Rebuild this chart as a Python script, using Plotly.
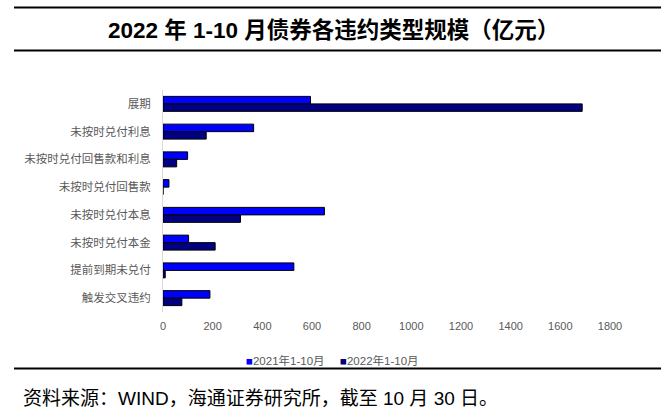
import plotly.graph_objects as go

categories = ["展期", "未按时兑付利息", "未按时兑付回售款和利息", "未按时兑付回售款",
              "未按时兑付本息", "未按时兑付本金", "提前到期未兑付", "触发交叉违约"]
values_2021 = [594, 365, 99, 24, 650, 103, 527, 189]
values_2022 = [1688, 174, 55, 0, 312, 210, 9, 76]
series_names = ["2021年1-10月", "2022年1-10月"]
x_ticks = [0, 200, 400, 600, 800, 1000, 1200, 1400, 1600, 1800]

W, H = 667, 415
ML, MR, MT, MB = 163, 57, 90, 103
PW, PH = W - ML - MR, H - MT - MB


def px(x):
    return (x - ML) / PW


def py(y):
    return (H - MB - y) / PH


fig = go.Figure()
fig.add_trace(go.Bar(y=categories, x=values_2021, orientation="h", name=series_names[0],
                     marker=dict(color="#0000FF", line=dict(color="#000000", width=1))))
fig.add_trace(go.Bar(y=categories, x=values_2022, orientation="h", name=series_names[1],
                     marker=dict(color="#000080", line=dict(color="#000000", width=1))))

fig.update_layout(
    width=W, height=H,
    margin=dict(l=ML, r=MR, t=MT, b=MB, pad=0, autoexpand=False),
    paper_bgcolor="white", plot_bgcolor="white",
    barmode="group", bargap=0.46, bargroupgap=0,
    showlegend=False,
    font=dict(family="Liberation Sans, Arial, Noto Sans CJK SC", color="#595959", size=11),
)
fig.update_xaxes(range=[0, 1800], tickvals=x_ticks, showgrid=False, zeroline=False,
                 showline=False, ticks="", ticklabelstandoff=6, automargin=False,
                 tickfont=dict(family="Liberation Sans, Arial", size=11, color="#595959"))
fig.update_yaxes(autorange="reversed", showgrid=False, zeroline=False, showline=True,
                 linecolor="#D9D9D9", linewidth=1, ticks="", ticklabelstandoff=9, automargin=False,
                 tickfont=dict(family="Noto Sans CJK SC", size=11.5, color="#595959"))

# Title and rules
for yy in (7.5, 50.5, 368.5):
    fig.add_shape(type="line", xref="paper", yref="paper",
                  x0=px(14), x1=px(661), y0=py(yy), y1=py(yy),
                  line=dict(color="black", width=2))
fig.add_annotation(xref="paper", yref="paper", x=px(333.5), y=py(30), showarrow=False,
                   xanchor="center", yanchor="middle",
                   text="<b>2022 年 1-10 月债券各违约类型规模（亿元）</b>",
                   font=dict(family="Liberation Sans, Arial, Noto Sans CJK SC", size=22.5, color="black"))

# Legend
legend_items = [(244, "#0000FF", series_names[0]), (338, "#000080", series_names[1])]
for lx, col, name in legend_items:
    fig.add_annotation(xref="paper", yref="paper", x=px(lx), y=py(360), showarrow=False,
                       xanchor="left", yanchor="middle",
                       text=f"<span style='color:{col}'>■</span>{name}",
                       font=dict(family="Liberation Sans, Arial, Noto Sans CJK SC", size=11.5, color="#595959"))

# Source
fig.add_annotation(xref="paper", yref="paper", x=px(21), y=py(398), showarrow=False,
                   xanchor="left", yanchor="middle",
                   text="资料来源：WIND，海通证券研究所，截至 10 月 30 日。",
                   font=dict(family="Liberation Sans, Arial, Noto Sans CJK SC", size=19, color="black"))

fig.write_html("out.html", config={"displayModeBar": False},
               post_script="document.body.style.margin='0';document.body.style.overflow='hidden';")
